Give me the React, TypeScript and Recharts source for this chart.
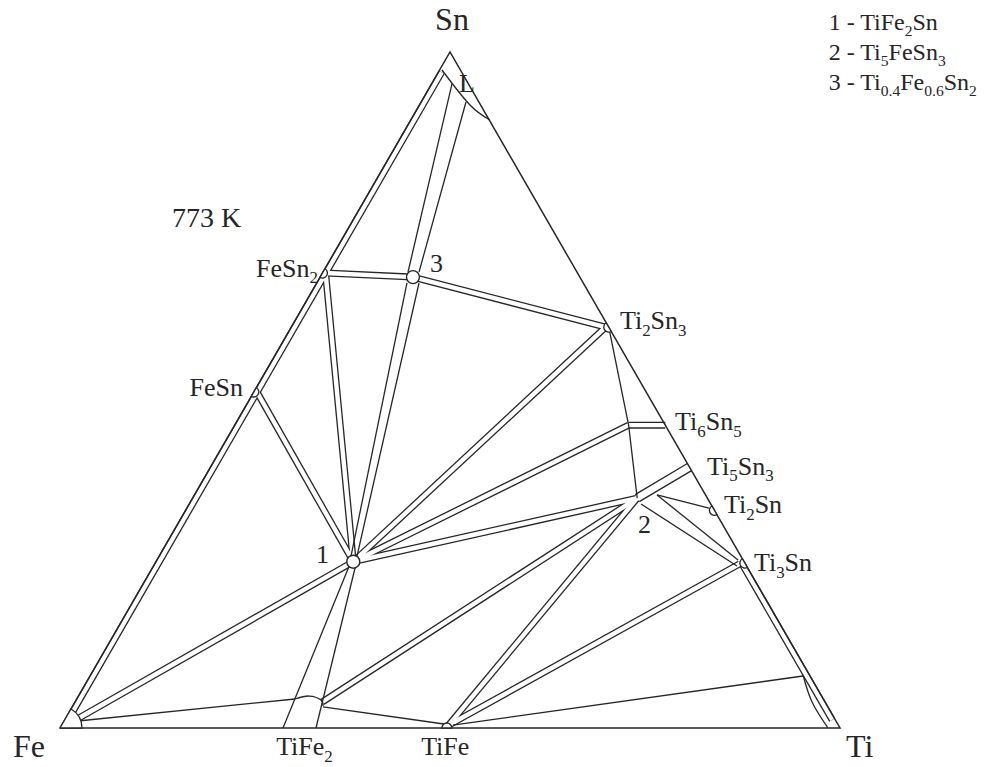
import React from 'react';
import { ComposedChart, Line, Scatter, XAxis, YAxis } from 'recharts';

// every point is a composition: [at.% Ti, at.% Sn], the rest is Fe
type Comp = [number, number];

const P1: Comp = [25.3, 24.6]; // 1 - TiFe2Sn
const P2: Comp = [57.0, 34.0]; // 2 - Ti5FeSn3
const P3: Comp = [11.9, 66.7]; // 3 - Ti0.4Fe0.6Sn2
const FESN2: Comp = [0.4, 67.3];
const FESN: Comp = [0.4, 49.7];
const TI2SN3: Comp = [40.3, 59.3];
const TI6SN5: Comp = [50.5, 44.8];
const TI5SN3: Comp = [61.4, 38.6];
const TI3SN: Comp = [75.0, 24.3];
const TIFE: Comp = [49.6, 0.4];
const TIFE2: Comp = [31.7, 3.85];

// narrow two-phase fields, drawn as double lines
const narrowBands: Comp[][] = [
  [[0.43, 2], [0.43, 97]], // along Fe-Sn side
  [[75.17, 24.4], [98.4, 1.2]], // along Ti3Sn-Ti side
  [FESN, P1],
  [FESN2, P1],
  [FESN2, P3],
  [P3, TI2SN3],
  [TI2SN3, P1],
  [TI6SN5, [55.2, 44.8]],
  [TI6SN5, P1],
  [P2, P1],
  [[1.2, 1.0], P1],
  [P2, TIFE2],
  [P2, TIFE],
  [TI3SN, TIFE],
];
const wideBands: Comp[][] = [[P2, TI5SN3]];

// single boundary lines
const singleLines: Comp[][] = [
  [[40.7, 59.3], TI6SN5, P2],
  [[2.62, 95.27], [10.89, 67.46]],
  [[5.75, 92.6], [12.3, 67.46]],
  [[11.57, 65.83], [24.59, 25.44]],
  [[13.11, 65.83], [25.36, 25.44]],
  [[25.05, 24.26], [28.59, 0]],
  [[25.82, 24.26], [32.82, 0]],
  [[1.5, 1.0], [27.98, 4.29]],
  [[32.16, 3.11], [48.93, 0.59]],
  [[50.16, 0.44], [91.41, 7.69]],
  [[59.31, 34.47], [74.5, 24.85]],
  [[57.92, 33.14], [74.81, 23.96]],
  [[59.31, 34.47], [66.94, 32.54]],
];

// curved boundaries: liquid, TiFe2 cap, beta-Ti
const curves: Comp[][] = [
  [[0.3, 97.34], [6.48, 92.16], [10.16, 89.94]],
  [[27.98, 4.29], [29.56, 4.73], [31.39, 4.14], [32.09, 3.25]],
  [[91.34, 7.84], [94.49, 3.85], [98.46, 0]],
];

const triangle: Comp[] = [[0, 0], [100, 0], [0, 100], [0, 0]];

const openNodes: Comp[] = [P1, P3];
const sideNodes: { at: Comp; side: 'left' | 'right' | 'bottom' }[] = [
  { at: [0, 67.3], side: 'left' },
  { at: [0, 49.7], side: 'left' },
  { at: [40.7, 59.3], side: 'right' },
  { at: [67.8, 32.2], side: 'right' },
  { at: [75.6, 24.4], side: 'right' },
  { at: [49.6, 0], side: 'bottom' },
];
const cornerNodes: Comp[] = [[0, 0]];

type Label = { text: string; at: Comp; anchor?: 'start' | 'middle' | 'end' };

const vertexLabels: Label[] = [
  { text: 'Sn', at: [-1.37, 103.25], anchor: 'middle' },
  { text: 'Fe', at: [-3.88, -4.29] },
  { text: 'Ti', at: [102.91, -4.29] },
];
const phaseLabels: Label[] = [
  { text: 'FeSn_{2}', at: [-0.28, 66.72], anchor: 'end' },
  { text: 'FeSn', at: [-1.1, 49.11], anchor: 'end' },
  { text: 'Ti_{2}Sn_{3}', at: [42.28, 59.02] },
  { text: 'Ti_{6}Sn_{5}', at: [56.81, 44.08] },
  { text: 'Ti_{5}Sn_{3}', at: [64.24, 37.43] },
  { text: 'Ti_{2}Sn', at: [69.23, 31.8] },
  { text: 'Ti_{3}Sn', at: [77.36, 23.22] },
  { text: 'TiFe_{2}', at: [29.71, -4.0] },
  { text: 'TiFe', at: [48.3, -4.0] },
  { text: '1', at: [20.62, 24.41] },
  { text: '2', at: [59.68, 28.85] },
  { text: '3', at: [13.71, 67.46] },
  { text: 'L', at: [4.11, 94.08] },
];
const titleLabels: Label[] = [{ text: '773 K', at: [-22.7, 74.11] }];
const legendLines: Label[] = [
  { text: '1 - TiFe_{2}Sn', at: [46.92, 103.25] },
  { text: '2 - Ti_{5}FeSn_{3}', at: [49.14, 98.82] },
  { text: '3 - Ti_{0.4}Fe_{0.6}Sn_{2}', at: [51.36, 94.38] },
];

const INK = '#262626';
const FONT = '"Liberation Serif", "Times New Roman", serif';

const toXY = ([ti, sn]: Comp) => ({ x: ti + sn / 2, y: sn });

const SIDE_DIR = { left: [0.5, -0.866], right: [0.5, 0.866], bottom: [-1, 0] };

const RichText = ({ x, y, text, size, anchor }: any) => {
  const parts = text.split(/_\{([^}]*)\}/);
  const shift = size * 0.25;
  return (
    <text x={x} y={y} fontSize={size} fontFamily={FONT} fill={INK} textAnchor={anchor || 'start'}>
      {parts.map((p: string, i: number) =>
        i % 2 ? (
          <tspan key={i} fontSize={size * 0.65} dy={shift}>{p}</tspan>
        ) : (
          <tspan key={i} dy={i === 0 ? 0 : -shift}>{p}</tspan>
        )
      )}
    </text>
  );
};

const textShape = (size: number) => (props: any) =>
  <RichText x={props.cx} y={props.cy} text={props.payload.text} size={size} anchor={props.payload.anchor} />;

const SideCap = (props: any) => {
  const { cx, cy, payload } = props;
  const [dx, dy] = SIDE_DIR[payload.side as 'left'];
  const r = 5;
  return (
    <path
      d={`M${cx - r * dx},${cy - r * dy} A${r},${r} 0 0 0 ${cx + r * dx},${cy + r * dy} Z`}
      fill="#fff"
      stroke={INK}
      strokeWidth={1.3}
    />
  );
};

const FeCorner = (props: any) => {
  const { cx, cy } = props;
  const r = 22;
  return (
    <path
      d={`M${cx},${cy} L${cx + r * 0.5},${cy - r * 0.866} A${r},${r} 0 0 1 ${cx + r},${cy} Z`}
      fill="#fff"
      stroke={INK}
      strokeWidth={1.3}
    />
  );
};

const OpenNode = (props: any) => (
  <circle cx={props.cx} cy={props.cy} r={6.5} fill="#fff" stroke={INK} strokeWidth={1.4} />
);

const path = (pts: Comp[], key: string, color: string, width: number, type: any = 'linear') => (
  <Line
    key={key}
    data={pts.map(toXY)}
    dataKey="y"
    type={type}
    stroke={color}
    strokeWidth={width}
    dot={false}
    activeDot={false}
    legendType="none"
    isAnimationActive={false}
  />
);

const labelData = (list: Label[]) => list.map((l) => ({ ...toXY(l.at), text: l.text, anchor: l.anchor }));

export default function App() {
  return (
    <div style={{ position: 'absolute', left: 0, top: 0, width: 998, height: 767, background: '#fff' }}>
      <ComposedChart width={998} height={767} margin={{ top: 1.3, right: 2, bottom: 1.82, left: 1.5 }}>
        <XAxis type="number" dataKey="x" domain={[-7.5, 120]} hide />
        <YAxis type="number" dataKey="y" domain={[-5.5, 107.5]} hide />

        {narrowBands.map((b, i) => path(b, `nb${i}`, INK, 7))}
        {wideBands.map((b, i) => path(b, `wb${i}`, INK, 9.5))}
        {narrowBands.map((b, i) => path(b, `nw${i}`, '#fff', 4.4))}
        {wideBands.map((b, i) => path(b, `ww${i}`, '#fff', 6.9))}
        {singleLines.map((b, i) => path(b, `sl${i}`, INK, 1.3))}
        {curves.map((b, i) => path(b, `cv${i}`, INK, 1.3, 'natural'))}
        {path(triangle, 'tri', INK, 1.5)}

        <Scatter data={cornerNodes.map(toXY)} shape={FeCorner} isAnimationActive={false} legendType="none" />
        <Scatter data={sideNodes.map((n) => ({ ...toXY(n.at), side: n.side }))} shape={SideCap} isAnimationActive={false} legendType="none" />
        <Scatter data={openNodes.map(toXY)} shape={OpenNode} isAnimationActive={false} legendType="none" />

        <Scatter data={labelData(vertexLabels)} shape={textShape(32)} isAnimationActive={false} legendType="none" />
        <Scatter data={labelData(phaseLabels)} shape={textShape(26)} isAnimationActive={false} legendType="none" />
        <Scatter data={labelData(titleLabels)} shape={textShape(28)} isAnimationActive={false} legendType="none" />
        <Scatter data={labelData(legendLines)} shape={textShape(24)} isAnimationActive={false} legendType="none" />
      </ComposedChart>
    </div>
  );
}
